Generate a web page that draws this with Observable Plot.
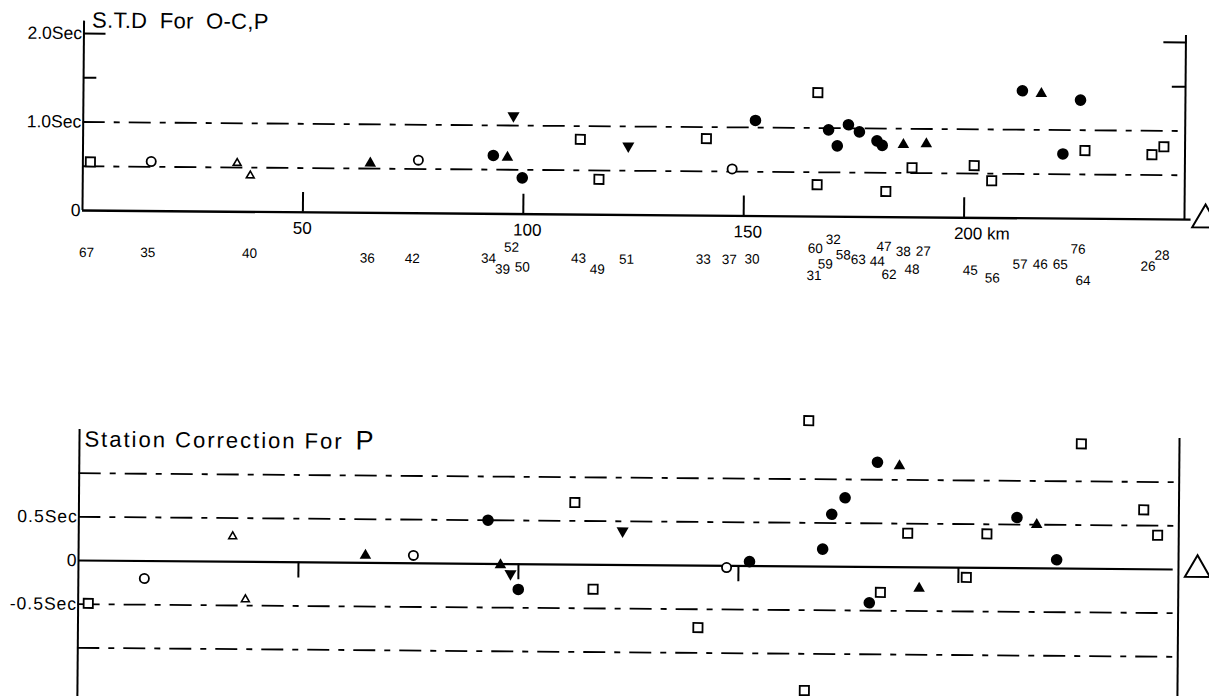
<!DOCTYPE html>
<html><head><meta charset="utf-8">
<script src="https://cdn.jsdelivr.net/npm/d3@7"></script>
<script src="https://cdn.jsdelivr.net/npm/@observablehq/plot@0.6"></script>
<style>
html,body{margin:0;padding:0;background:#fff;width:1209px;height:696px;overflow:hidden;}
#top,#bottom{position:absolute;left:0;transform:rotate(0.47deg);}
#top{top:0;transform-origin:82px 210px;}
#bottom{top:300px;transform-origin:78px 260px;}
</style></head><body>
<div id="top"></div><div id="bottom"></div>
<script>
// ---------- shared distance axis ----------
const kmDomain = [0, 250];
const kmTicks = [50, 100, 150, 200];
const kmTickLabels = ["50", "100", "150", "200 km"];

// ---------- upper panel: S.T.D for O-C, P ----------
const stdTitle = "S.T.D For O-C,P";
const stdDomain = [0, 2];
const stdTicks = [2.0, 1.0, 0];
const stdTickLabels = ["2.0Sec", "1.0Sec", "0"];
const stdMinorTicks = [2.0, 1.5];
const stdRefLines = [1.0, 0.5];

const stdKm  = [1.7, 15.5, 35.0, 38.0, 65.2, 76.1, 93.1, 96.3, 97.6, 99.7, 112.8, 117.1, 123.7, 141.4, 147.3, 152.5,
                166.6, 166.6, 169.1, 171.1, 173.6, 176.1, 180.1, 181.3, 182.2, 186.1, 188.1, 191.3, 202.2, 206.2,
                213.0, 217.3, 222.3, 226.2, 227.3, 242.5, 245.2];
const stdSec = [0.55, 0.56, 0.55, 0.41, 0.56, 0.60, 0.66, 0.64, 1.11, 0.41, 0.85, 0.40, 0.78, 0.87, 0.53, 1.08,
                1.40, 0.36, 0.98, 0.80, 1.04, 0.96, 0.86, 0.81, 0.29, 0.82, 0.56, 0.83, 0.59, 0.42,
                1.44, 1.41, 0.73, 1.34, 0.77, 0.73, 0.82];
const stdSym = ["open square", "open circle", "open triangle", "open triangle", "filled triangle", "open circle",
                "filled circle", "filled triangle", "filled inverted triangle", "filled circle", "open square", "open square",
                "filled inverted triangle", "open square", "open circle", "filled circle",
                "open square", "open square", "filled circle", "filled circle", "filled circle", "filled circle",
                "filled circle", "filled circle", "open square", "filled triangle", "open square", "filled triangle",
                "open square", "open square", "filled circle", "filled triangle", "filled circle", "filled circle",
                "open square", "open square", "open square"];

// station numbers written under the distance axis
const stationLabels = ["67", "35", "40", "36", "42", "34", "52", "39", "50", "43", "49", "51", "33", "37", "30",
                       "60", "32", "59", "31", "58", "63", "44", "47", "38", "27", "62", "48", "45", "56",
                       "57", "46", "65", "76", "64", "26", "28"];
const stationKm = [1.0, 14.9, 38.0, 64.7, 74.9, 92.2, 97.4, 95.4, 99.9, 112.6, 116.9, 123.5, 140.9, 146.8, 152.0,
                   166.3, 170.4, 168.6, 166.1, 172.7, 176.1, 180.4, 181.9, 186.3, 190.8, 183.1, 188.3, 201.5, 206.5,
                   212.8, 217.4, 221.9, 225.9, 227.1, 241.8, 245.0];
const stationTier = [0.4, 0.3, 0.3, 1.0, 1.0, 0.85, -1.2, 2.8, 2.4, 0.7, 2.7, 0.8, 0.7, 0.7, 0.6,
                     -1.45, -3.1, 1.4, 3.5, -0.3, 0.5, 0.8, -1.9, -1.0, -1.1, 3.2, 2.2, 2.3, 3.7,
                     1.15, 1.1, 1.1, -1.7, 4.0, 1.3, -0.7];

// ---------- lower panel: Station correction for P ----------
const corrTitle = "Station Correction For";
const corrTitleP = "P";
const corrDomain = [-1.5, 1.5];
const corrTicks = [0.5, 0, -0.5];
const corrTickLabels = ["0.5Sec", "0", "-0.5Sec"];
const corrRefLines = [1.0, 0.5, -0.5, -1.0];

const corrKm  = [2.3, 15.0, 35.0, 38.0, 65.2, 76.1, 93.0, 95.9, 98.2, 100.0, 112.7, 117.0, 123.6, 140.9, 147.3, 152.5,
                 165.7, 165.2, 169.1, 171.1, 174.1, 181.4, 186.4, 179.8, 182.3, 188.4, 191.1, 201.8, 206.4,
                 213.2, 217.7, 222.3, 227.7, 242.0, 245.2];
const corrSec = [-0.49, -0.20, 0.29, -0.43, 0.085, 0.09, 0.50, -0.01, -0.11, -0.29, 0.71, -0.28, 0.39, -0.71, -0.02, 0.05,
                 1.67, -1.42, 0.20, 0.60, 0.79, 1.20, 1.16, -0.41, -0.29, 0.39, -0.24, -0.11, 0.39,
                 0.58, 0.50, 0.10, 1.43, 0.68, 0.39];
const corrSym = ["open square", "open circle", "open triangle", "open triangle", "filled triangle", "open circle",
                 "filled circle", "filled triangle", "filled inverted triangle", "filled circle", "open square", "open square",
                 "filled inverted triangle", "open square", "open circle", "filled circle",
                 "open square", "open square", "filled circle", "filled circle", "filled circle", "filled circle",
                 "filled triangle", "filled circle", "open square", "open square", "filled triangle", "open square",
                 "open square", "filled circle", "filled triangle", "filled circle", "open square", "open square", "open square"];

// ---------- styling ----------
const FONT = '"Liberation Sans", Arial, sans-serif';
const DASH = "22,9,6,9";
const triDown = {
  draw(ctx, size) {
    const y = Math.sqrt(size / (3 * Math.sqrt(3)));
    ctx.moveTo(0, 2 * y);
    ctx.lineTo(Math.sqrt(3) * y, -y);
    ctx.lineTo(-Math.sqrt(3) * y, -y);
    ctx.closePath();
  }
};
const symStyle = {
  "open square": {symbol: "square", r: 5.2, fill: "white", stroke: "black", strokeWidth: 1.8},
  "open circle": {symbol: "circle", r: 4.6, fill: "white", stroke: "black", strokeWidth: 1.8},
  "filled circle": {symbol: "circle", r: 5.8, fill: "black", stroke: "none"},
  "open triangle": {symbol: "triangle", r: 2.9, fill: "white", stroke: "black", strokeWidth: 1.6},
  "filled triangle": {symbol: "triangle", r: 4.3, fill: "black", stroke: "none"},
  "filled inverted triangle": {symbol: triDown, r: 4.5, fill: "black", stroke: "none"}
};
function pointMarks(km, sec, sym) {
  return Object.keys(symStyle).map(type => {
    const idx = d3.range(km.length).filter(i => sym[i] === type);
    return Plot.dot(idx, {x: i => km[i], y: i => sec[i], ...symStyle[type], clip: false});
  });
}

// ---------- upper chart ----------
const topSvg = Plot.plot({
  width: 1209, height: 300,
  marginLeft: 82, marginRight: 25, marginTop: 33, marginBottom: 90,
  x: {domain: kmDomain, axis: null},
  y: {domain: stdDomain, axis: null},
  style: {fontFamily: FONT, background: "transparent", overflow: "visible", color: "black"},
  marks: [
    Plot.ruleY(stdRefLines, {x1: kmDomain[0], x2: kmDomain[1], stroke: "black", strokeWidth: 1.8, strokeDasharray: DASH}),
    Plot.ruleX([kmDomain[0]], {y1: 0, y2: 2.14, stroke: "black", strokeWidth: 2}),
    Plot.ruleX([kmDomain[1]], {y1: 0, y2: 2.08, stroke: "black", strokeWidth: 2}),
    Plot.ruleY(stdMinorTicks, {x1: kmDomain[0], x2: d => d === 2 ? 5 : 3, stroke: "black", strokeWidth: 2}),
    Plot.ruleY(stdMinorTicks, {x1: d => kmDomain[1] - (d === 2 ? 5 : 3), x2: kmDomain[1], stroke: "black", strokeWidth: 2}),
    Plot.ruleY([0], {x1: kmDomain[0], x2: kmDomain[1] + 1.5, stroke: "black", strokeWidth: 2.4}),
    Plot.ruleX(kmTicks, {y1: 0, y2: 0.225, stroke: "black", strokeWidth: 2}),
    Plot.text(kmTicks, {x: d => d, y: 0, text: (d, i) => kmTickLabels[i], textAnchor: "start", dx: -10, dy: 16, fontSize: 17, fill: "black"}),
    Plot.text(stdTicks, {y: d => d, frameAnchor: "left", text: (d, i) => stdTickLabels[i], textAnchor: "end", dx: -2, fontSize: 17.5, fill: "black"}),
    Plot.text(stationLabels, {x: (d, i) => stationKm[i], y: (d, i) => -0.452 - stationTier[i] * 0.062, text: d => d, fontSize: 13.5, fill: "black", clip: false}),
    Plot.text([stdTitle], {frameAnchor: "top-left", lineAnchor: "middle", text: d => d, textAnchor: "start", dx: 8, dy: -13, fontSize: 22, fill: "black"}),
    ...pointMarks(stdKm, stdSec, stdSym),
    Plot.dot([0], {y: d => d, frameAnchor: "right", dx: 21, symbol: "triangle", r: 9.8, fill: "white", stroke: "black", strokeWidth: 2})
  ]
});
document.getElementById("top").appendChild(topSvg);

// ---------- lower chart ----------
const bottomSvg = Plot.plot({
  width: 1209, height: 396,
  marginLeft: 78, marginRight: 31, marginTop: 129, marginBottom: 5,
  x: {domain: kmDomain, axis: null},
  y: {domain: corrDomain, axis: null},
  style: {fontFamily: FONT, background: "transparent", overflow: "visible", color: "black"},
  marks: [
    Plot.ruleY(corrRefLines, {x1: kmDomain[0], x2: kmDomain[1], stroke: "black", strokeWidth: 1.8, strokeDasharray: DASH}),
    Plot.ruleX([kmDomain[0], kmDomain[1]], {y1: -1.7, y2: corrDomain[1], stroke: "black", strokeWidth: 2}),
    Plot.ruleY([0], {x1: kmDomain[0], x2: kmDomain[1] - 1.2, stroke: "black", strokeWidth: 2.2}),
    Plot.ruleX(kmTicks, {y1: 0, y2: -0.18, stroke: "black", strokeWidth: 2}),
    Plot.text(corrTicks, {y: d => d, frameAnchor: "left", text: (d, i) => corrTickLabels[i], textAnchor: "end", dx: -1, fontSize: 17.5, fill: "black"}),
    Plot.text([corrTitle], {frameAnchor: "top-left", lineAnchor: "middle", text: d => d, textAnchor: "start", dx: 5, dy: 10, fontSize: 22, fill: "black"}),
    Plot.text([corrTitleP], {frameAnchor: "top-left", lineAnchor: "middle", text: d => d, textAnchor: "start", dx: 276, dy: 9, fontSize: 27, fill: "black"}),
    ...pointMarks(corrKm, corrSec, corrSym),
    Plot.dot([0], {y: d => d, frameAnchor: "right", dx: 19, symbol: "triangle", r: 9.3, fill: "white", stroke: "black", strokeWidth: 2})
  ]
});
document.getElementById("bottom").appendChild(bottomSvg);

// letter spacing tweaks to mimic the lettering of the original
d3.select(topSvg).selectAll("text").filter(function() { return this.textContent === stdTitle; })
  .style("word-spacing", "6px").style("letter-spacing", "0.3px");
d3.select(bottomSvg).selectAll("text").filter(function() { return this.textContent === corrTitle; })
  .style("letter-spacing", "2px");
d3.select(bottomSvg).selectAll("text").filter(function() { return corrTickLabels.includes(this.textContent); })
  .style("letter-spacing", "1px");
</script>
</body></html>
